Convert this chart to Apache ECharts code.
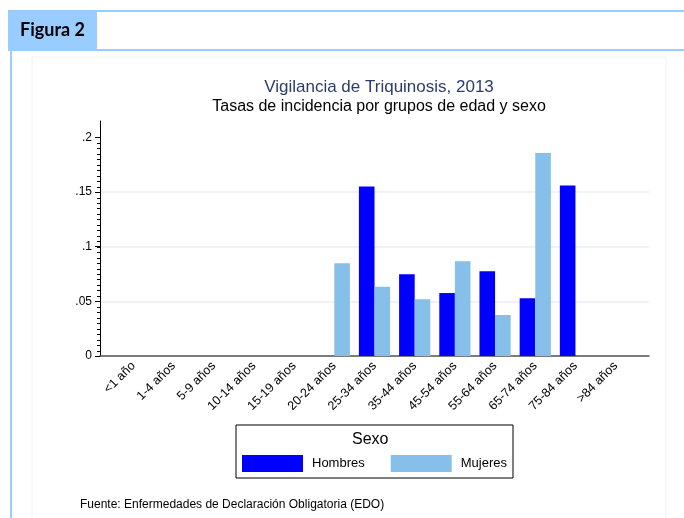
<!DOCTYPE html>
<html>
<head>
<meta charset="utf-8">
<script src="https://cdn.jsdelivr.net/npm/echarts@6/dist/echarts.min.js"></script>
<style>
    html, body { margin: 0; padding: 0; background: #fff; }
    #chart { width: 684px; height: 518px; }
</style>
</head>
<body>
<div id="chart"></div>
<script>
// age groups
const categories = ['<1 año', '1-4 años', '5-9 años', '10-14 años', '15-19 años', '20-24 años',
    '25-34 años', '35-44 años', '45-54 años', '55-64 años', '65-74 años', '75-84 años', '>84 años'];
// rates per group
const hombres = [0, 0, 0, 0, 0, 0, 0.155, 0.0747, 0.0576, 0.0775, 0.0528, 0.156, 0];
const mujeres = [0, 0, 0, 0, 0, 0.0848, 0.0634, 0.052, 0.0866, 0.0375, 0.1857, 0, 0];
const yTicks = [0, 0.05, 0.1, 0.15, 0.2];
const catIndex = categories.map((c, i) => i);

// minor ticks every .005 up to .2
const minorTicks = [];
for (let i = 0; i <= 40; i++) {
    minorTicks.push(+(i * 0.005).toFixed(3));
}

const chart = echarts.init(document.getElementById('chart'));
chart.setOption({
    animation: false,
    textStyle: { fontFamily: 'Liberation Sans, Arial, sans-serif' },
    title: [{
        text: 'Vigilancia de Triquinosis, 2013',
        left: 374, top: 74, textAlign: 'center',
        textStyle: { fontSize: 17, fontWeight: 'normal', color: '#2a3d6b' }
    }, {
        text: 'Tasas de incidencia por grupos de edad y sexo',
        left: 374, top: 94, textAlign: 'center',
        textStyle: { fontSize: 16, fontWeight: 'normal', color: '#000' }
    }],
    grid: { left: 100, right: 35, top: 121, bottom: 162 },
    legend: {
        left: 242, top: 455, padding: 0,
        itemWidth: 61, itemHeight: 17, itemGap: 26,
        icon: 'rect',
        textStyle: { fontSize: 13, color: '#000', padding: [0, 0, 0, 4] },
        data: ['Hombres', 'Mujeres']
    },
    xAxis: {
        type: 'value',
        min: -0.83, max: 12.83,
        axisLine: { show: true, onZero: false, lineStyle: { color: '#555', width: 1.5 } },
        axisTick: { show: false },
        splitLine: { show: false },
        axisLabel: {
            customValues: catIndex,
            rotate: 45, fontSize: 12.5, color: '#000', margin: 8,
            formatter: v => categories[Math.round(v)]
        }
    },
    yAxis: {
        type: 'value',
        min: 0, max: 0.215, interval: 0.05,
        axisLine: { show: true, onZero: false, lineStyle: { color: '#000' } },
        axisTick: { show: true, length: 5, customValues: yTicks, lineStyle: { color: '#000' } },
        axisLabel: {
            customValues: yTicks,
            fontSize: 12, color: '#000', margin: 8,
            formatter: v => v === 0 ? '0' : String(+v.toFixed(3)).replace(/^0/, '')
        },
        splitLine: { show: true, showMaxLine: false, lineStyle: { color: '#e9eff3', width: 1.5 } }
    },
    series: [{
        name: 'Hombres',
        type: 'bar',
        data: hombres.map((v, i) => [i, v]),
        barWidth: 15.6,
        barGap: '0%',
        itemStyle: { color: '#0000ff' }
    }, {
        name: 'Mujeres',
        type: 'bar',
        data: mujeres.map((v, i) => [i, v]),
        barWidth: 15.6,
        itemStyle: { color: '#86c0ea' }
    }, {
        // small ticks on the y axis
        name: 'minor',
        type: 'custom',
        silent: true,
        data: minorTicks.map(v => [0, v]),
        encode: { x: 0, y: 1 },
        renderItem: (params, api) => {
            const y = Math.round(api.coord([0, api.value(1)])[1]) + 0.5;
            const x = params.coordSys.x;
            return {
                type: 'line',
                shape: { x1: x - 3, y1: y, x2: x, y2: y },
                style: { stroke: '#000', lineWidth: 1 }
            };
        }
    }],
    graphic: [
        // top line and "Figura 2" tab
        { type: 'rect', shape: { x: 8, y: 10, width: 676, height: 2 }, style: { fill: '#99ccff' } },
        { type: 'rect', shape: { x: 8, y: 10, width: 89, height: 40 }, style: { fill: '#99ccff' } },
        { type: 'rect', shape: { x: 8, y: 49, width: 676, height: 2 }, style: { fill: '#99ccff' } },
        { type: 'rect', shape: { x: 10, y: 49, width: 2, height: 469 }, style: { fill: '#99ccff' } },
        {
            type: 'text', left: 20, top: 21,
            style: { text: 'Figura 2', font: 'bold 18px Lato, sans-serif', fill: '#000' }
        },
        // faint plot region frame
        { type: 'rect', shape: { x: 32, y: 57, width: 634, height: 470 }, style: { fill: 'none', stroke: '#f2f2f2', lineWidth: 1 }, z: -1 },
        // legend box
        { type: 'rect', shape: { x: 236, y: 425, width: 277, height: 53 }, style: { fill: 'none', stroke: '#000', lineWidth: 1 } },
        {
            type: 'text', left: 352, top: 432,
            style: { text: 'Sexo', font: '16px "Liberation Sans", Arial', fill: '#000' }
        },
        {
            type: 'text', left: 80, top: 499,
            style: { text: 'Fuente: Enfermedades de Declaración Obligatoria (EDO)', font: '12px "Liberation Sans", Arial', fill: '#000' }
        }
    ]
});
</script>
</body>
</html>
